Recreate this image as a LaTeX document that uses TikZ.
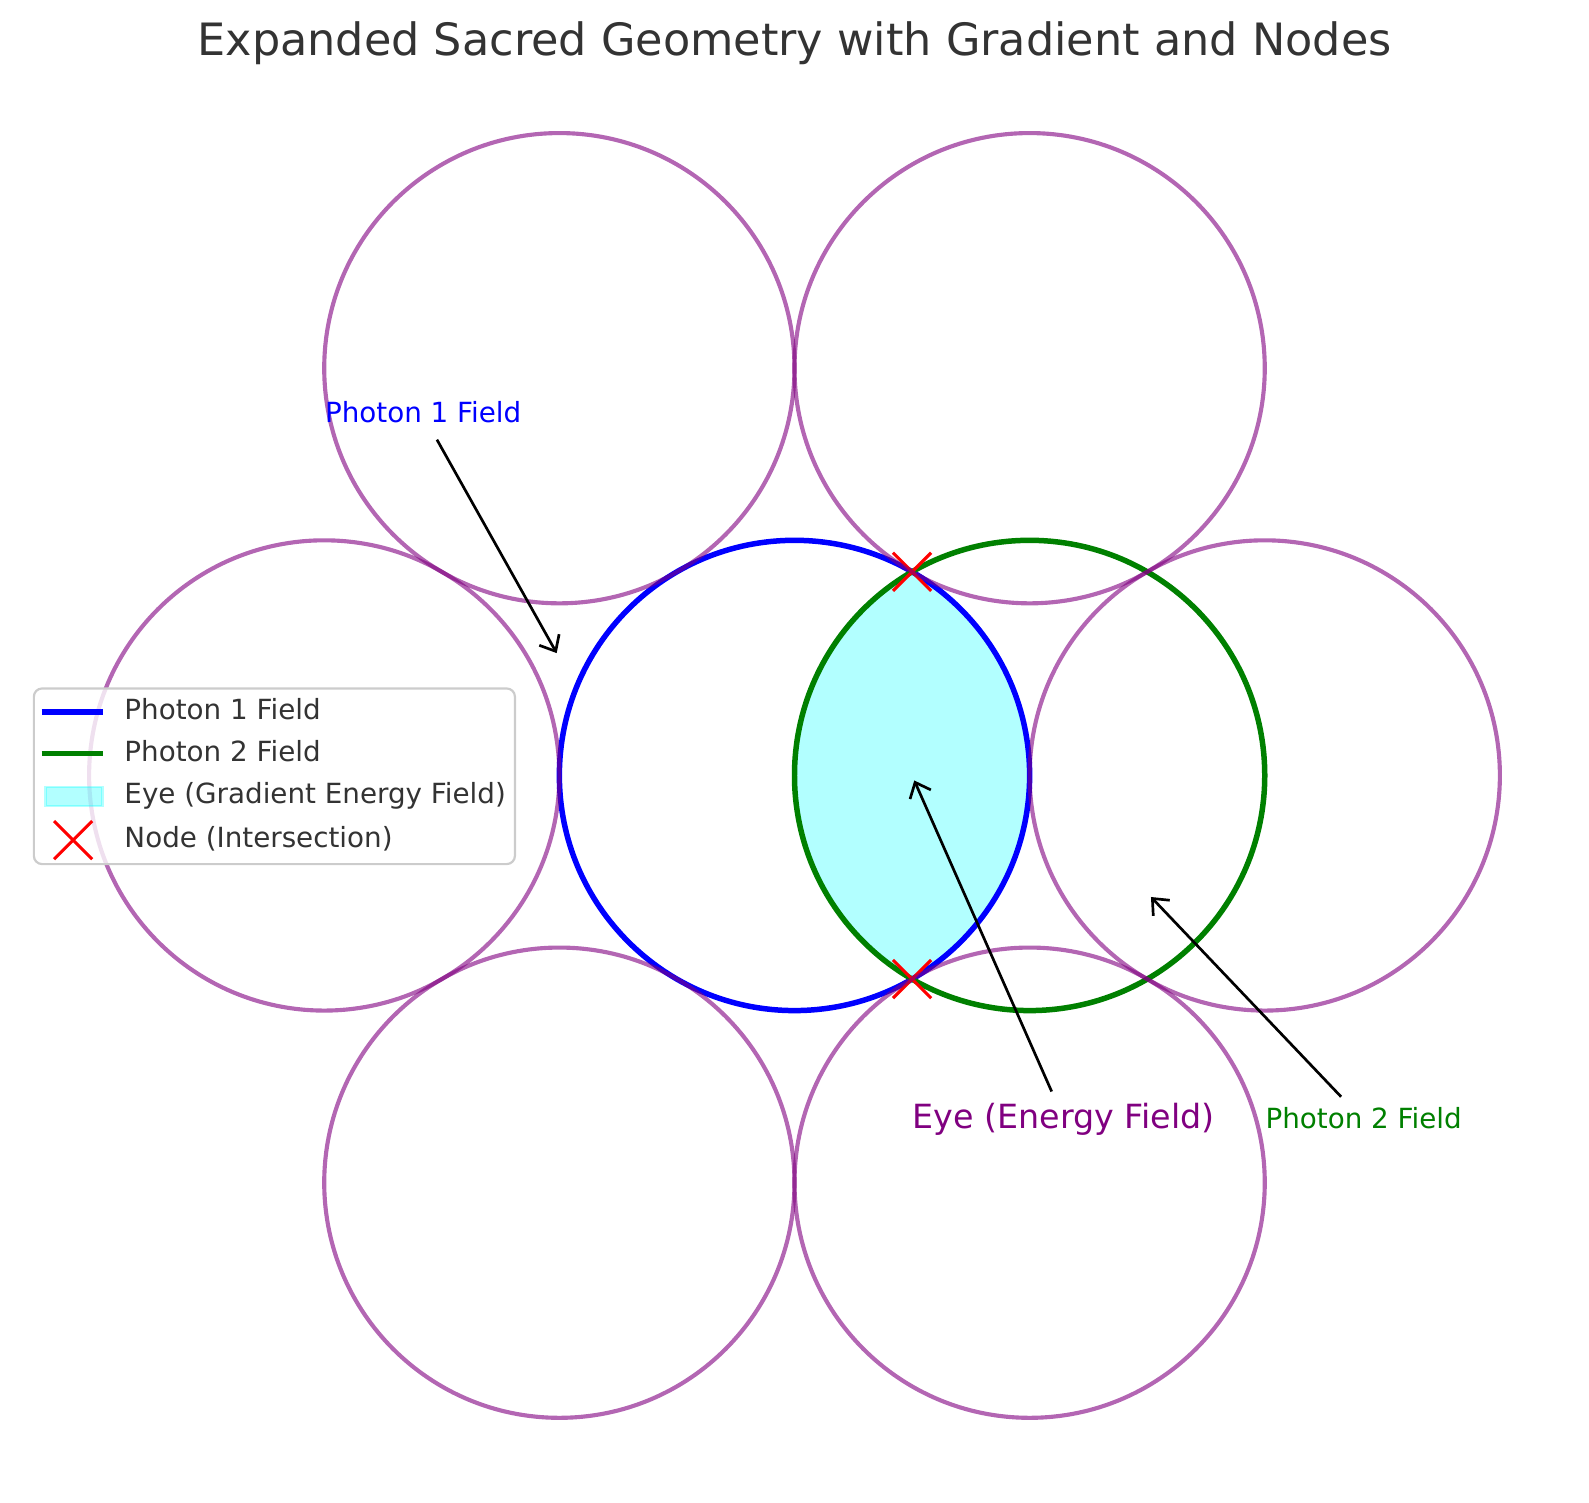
\documentclass[tikz,border=0pt]{standalone}
\usepackage{fontspec}
\setmainfont{DejaVu Sans}
\usetikzlibrary{arrows.meta, shapes.misc}
\definecolor{mplblue}{RGB}{0,0,255}
\definecolor{mplgreen}{RGB}{0,128,0}
\definecolor{mplpurple}{RGB}{128,0,128}
\definecolor{mplred}{RGB}{255,0,0}
\definecolor{mplcyan}{RGB}{0,255,255}
\definecolor{txtgray}{gray}{0.2}
\definecolor{framegray}{gray}{0.8}
\newcommand{\mplfont}[1]{\fontsize{#1}{#1}\selectfont}

\begin{document}
\begin{tikzpicture}[x=2cm, y=2cm,
    petal/.style={draw=mplpurple, draw opacity=0.6, line width=1pt},
    field/.style={line width=1.33pt},
    eyefill/.style={fill=mplcyan, fill opacity=0.3},
    xnode/.style={cross out, draw=mplred, line width=0.75pt, minimum size=8.5pt, inner sep=0pt},
    annot/.style={inner sep=1.33pt, anchor=base west, xshift=-1.33pt, font=\mplfont{6.72},
      text height=5.1pt, text depth=1.4pt},
    pointer/.style={-{Straight Barb[length=3.2pt, width=5.5pt]}, line width=0.65pt,
      shorten <=1.33pt, shorten >=1.33pt},
    legtext/.style={anchor=west, inner sep=0pt, text=txtgray, font=\mplfont{6.72},
      text height=5.1pt, text depth=1.4pt}]
  \useasboundingbox (-3.379,-3.091) rectangle (3.379,3.298);

  % title
  \node[anchor=base, text=txtgray, font=\mplfont{10.78}] (title) at (0,3.061)
    {Expanded Sacred Geometry with Gradient and Nodes};

  % eye = lens of the two photon fields
  \begin{scope}
    \clip (0,0) circle (1);
    \fill[eyefill] (1,0) circle (1);
  \end{scope}

  % photon fields
  \draw[field, mplblue] (0,0) circle (1);
  \draw[field, mplgreen] (1,0) circle (1);

  % nodes (intersections)
  \node[xnode] (ntop) at (0.5,0.866) {};
  \node[xnode] (nbot) at (0.5,-0.866) {};

  % outer ring of circles
  \foreach \cx/\cy in {-1/1.732, 1/1.732, -2/0, 2/0, -1/-1.732, 1/-1.732} {
    \draw[petal] (\cx,\cy) circle (1);
  }

  % annotations
  \coordinate (p1tip) at (-1,0.5);
  \coordinate (eyetip) at (0.5,0);
  \coordinate (p2tip) at (1.5,-0.5);
  \node[annot, text=mplblue] (p1lbl) at (-2,1.5) {Photon 1 Field};
  \node[annot, text=mplpurple, font=\mplfont{8.06}, text height=6.12pt,
    text depth=1.7pt] (eyelbl) at (0.5,-1.5) {Eye (Energy Field)};
  \node[annot, text=mplgreen] (p2lbl) at (2,-1.5) {Photon 2 Field};
  \draw[pointer] (p1lbl) -- (p1tip);
  \draw[pointer] (eyelbl) -- (eyetip);
  \draw[pointer] (p2lbl) -- (p2tip);

  % legend
  \draw[draw=framegray, line width=0.53pt, fill=white, fill opacity=0.8,
    rounded corners=2pt] (-3.235,-0.377) rectangle (-1.189,0.370);
  \draw[field, mplblue] (-3.202,0.2705) -- (-2.940,0.2705);
  \draw[field, mplgreen] (-3.202,0.0936) -- (-2.940,0.0936);
  \filldraw[eyefill, draw=mplcyan, draw opacity=0.3, line width=0.6pt]
    (-3.185,-0.1306) rectangle (-2.944,-0.0485);
  \node[xnode] (legx) at (-3.068,-0.275) {};
  \foreach \i/\yy/\lbl in {1/0.2705/Photon 1 Field, 2/0.0936/Photon 2 Field,
      3/-0.0868/Eye (Gradient Energy Field), 4/-0.275/Node (Intersection)} {
    \node[legtext] (leg\i) at (-2.853,\yy) {\lbl};
  }
\end{tikzpicture}
\end{document}
